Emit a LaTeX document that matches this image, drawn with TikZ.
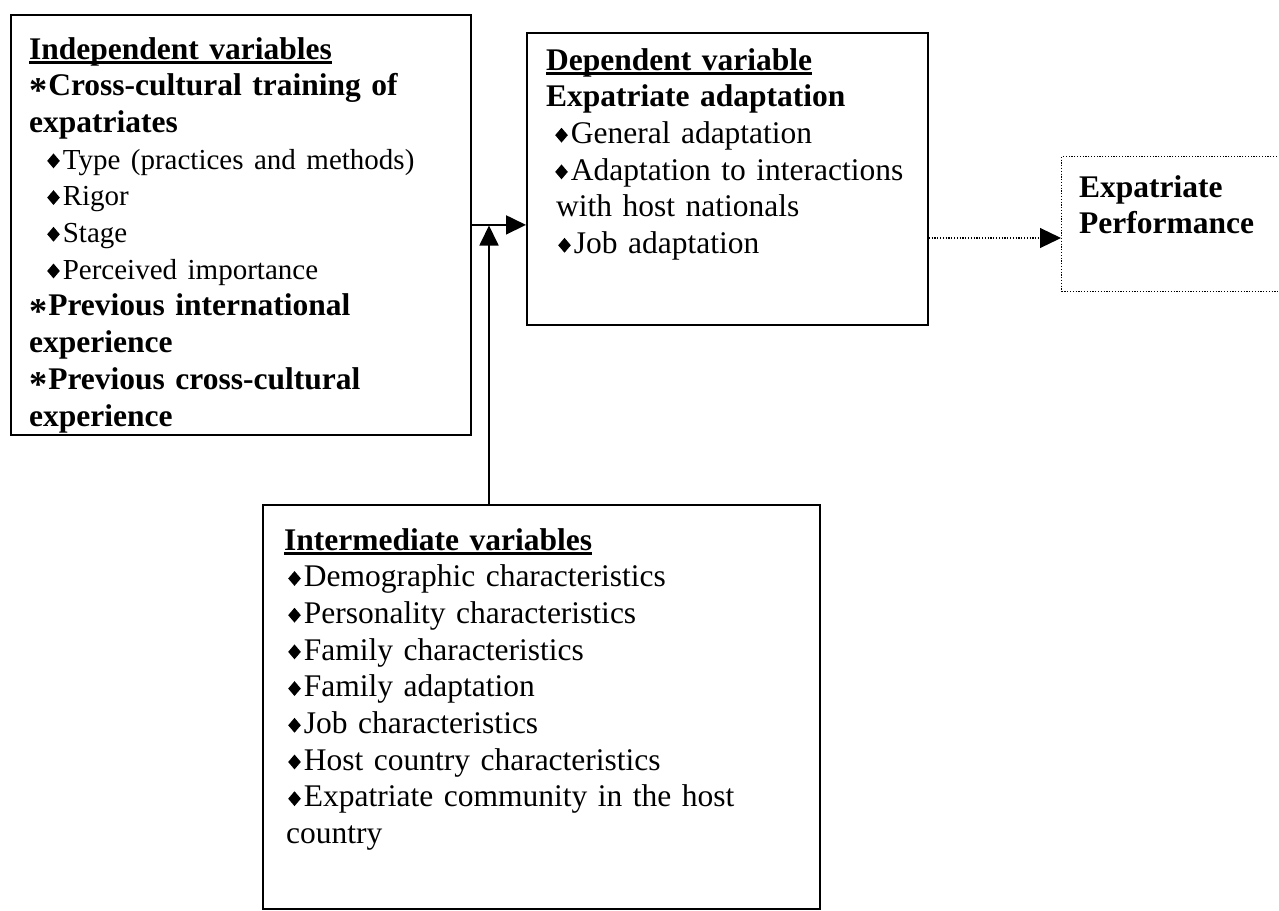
\documentclass[tikz,border=0pt]{standalone}
\usepackage{fontspec}
\setmainfont{Liberation Serif}
\usetikzlibrary{arrows.meta}
\newsavebox\ulbox
\newcommand\hd[1]{\sbox\ulbox{#1}\rlap{\rule[-0.15em]{\wd\ulbox}{0.075em}}\usebox\ulbox}
\newcommand\dia{\raisebox{0.8pt}[0pt][0pt]{\scalebox{0.85}[1]{\rotatebox{45}{\rule{10.5pt}{10.5pt}}}}\hspace{3pt}}
\newcommand\stp{\raisebox{-7.2pt}[0pt][0pt]{\scalebox{1.15}{*}}\hspace{1pt}}
\newcommand\sub{\mdseries\fontsize{29}{36.8}\selectfont\hspace*{18pt}\dia}
\tikzset{
  box/.style={draw, line width=1.8pt, anchor=north west, inner sep=0pt},
  txt/.style={anchor=base west, inner sep=0pt, align=left, font=\bfseries\fontsize{31.5}{36.7}\selectfont},
  conn/.style={line width=1.8pt, -{Triangle[length=20pt,width=19pt]}},
  dconn/.style={line width=1.1pt, dash pattern=on 1.2pt off 1.6pt, -{Triangle[length=21pt,width=20pt]}},
}
\begin{document}
\begin{tikzpicture}[x=1pt,y=-1pt]
\useasboundingbox (0,0) rectangle (1279,910);
% boxes
\node (ind) [box, minimum width=460pt, minimum height=420pt] at (10,14) {};
\node (dep) [box, minimum width=401pt, minimum height=292pt] at (526,32) {};
\node (inter) [box, minimum width=557pt, minimum height=404pt] at (262,504) {};
\node (perf) [box, line width=1.1pt, dash pattern=on 1.2pt off 1.6pt, minimum width=260pt, minimum height=135pt] at (1061,156) {};
% texts
\begin{scope}
\clip (10,14) rectangle (470,434);
\node (indt) [txt, text width=440pt] at (29,59) {\hd{Independent variables}\\
\stp Cross-cultural training of\\
expatriates\\
{\sub Type (practices and methods)}\\
{\sub Rigor}\\
{\sub Stage}\\
{\sub Perceived importance}\\
\stp Previous international\\
experience\\
\stp Previous cross-cultural\\
experience};
\end{scope}
\node (dept) [txt, text width=380pt] at (546,70) {\hd{Dependent variable}\\
Expatriate adaptation\\
{\mdseries\hspace*{9pt}\dia General adaptation}\\
{\mdseries\hspace*{9pt}\dia Adaptation to interactions}\\
{\mdseries\hspace*{10pt}with host nationals}\\
{\mdseries\hspace*{12pt}\dia Job adaptation}};
\node (intert) [txt, text width=530pt] at (284,550) {\hd{Intermediate variables}\\
{\mdseries\hspace*{4pt}\dia Demographic characteristics}\\
{\mdseries\hspace*{4pt}\dia Personality characteristics}\\
{\mdseries\hspace*{4pt}\dia Family characteristics}\\
{\mdseries\hspace*{4pt}\dia Family adaptation}\\
{\mdseries\hspace*{4pt}\dia Job characteristics}\\
{\mdseries\hspace*{4pt}\dia Host country characteristics}\\
{\mdseries\hspace*{4pt}\dia Expatriate community in the host}\\
{\mdseries\hspace*{2pt}country}};
\node (perft) [txt, text width=200pt, font=\bfseries\fontsize{31.5}{36}\selectfont] at (1079,197) {Expatriate\\ Performance};
% connectors
\coordinate (j) at (489,225.5);
\coordinate (pa) at (1061,238);
\draw[conn] (ind.east) -- (ind.east -| dep.west);
\draw[conn] (j |- inter.north) -- (j);
\draw[dconn] (dep.east |- pa) -- (pa);
\end{tikzpicture}
\end{document}
